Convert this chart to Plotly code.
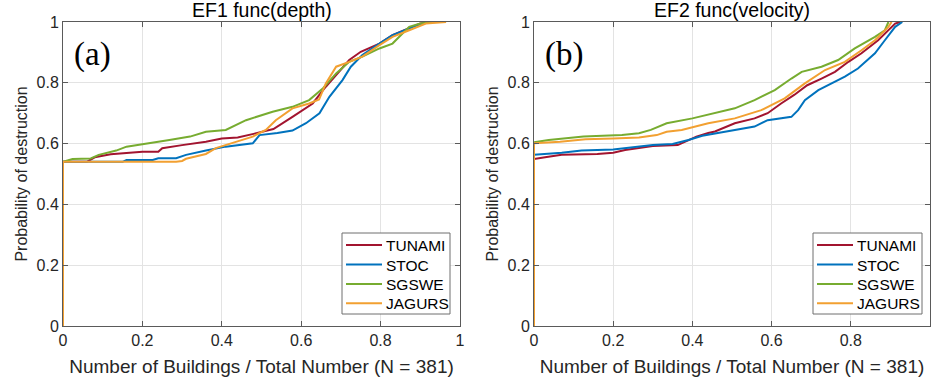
import plotly.graph_objects as go

# ---------------- data ----------------
series_names = ["TUNAMI", "STOC", "SGSWE", "JAGURS"]
series_colors = ["#A2142F", "#0072BD", "#77AC30", "#F2A031"]
panel_titles = ["EF1 func(depth)", "EF2 func(velocity)"]
panel_tags = ["(a)", "(b)"]
tick_vals = [0, 0.2, 0.4, 0.6, 0.8, 1]
tick_text = ["0", "0.2", "0.4", "0.6", "0.8", "1"]

# Panel (a): EF1 func(depth)
a_tunami_x = [0, 0, 0.06, 0.08, 0.12, 0.2, 0.24, 0.25, 0.3, 0.36, 0.4, 0.44, 0.48, 0.52, 0.53, 0.578, 0.629, 0.662, 0.688, 0.721, 0.75, 0.797, 0.83, 0.872, 0.90, 0.93]
a_tunami_y = [0, 0.54, 0.54, 0.555, 0.565, 0.573, 0.573, 0.585, 0.595, 0.606, 0.617, 0.62, 0.632, 0.645, 0.648, 0.688, 0.732, 0.787, 0.825, 0.875, 0.902, 0.929, 0.957, 0.979, 0.995, 1.0]
a_stoc_x = [0, 0, 0.15, 0.16, 0.226, 0.24, 0.285, 0.31, 0.36, 0.41, 0.478, 0.495, 0.54, 0.578, 0.612, 0.646, 0.671, 0.704, 0.725, 0.754, 0.797, 0.83, 0.881, 0.92]
a_stoc_y = [0, 0.54, 0.54, 0.546, 0.546, 0.552, 0.552, 0.563, 0.577, 0.59, 0.601, 0.628, 0.635, 0.643, 0.667, 0.70, 0.754, 0.809, 0.853, 0.891, 0.929, 0.957, 0.984, 1.0]
a_sgswe_x = [0, 0, 0.024, 0.07, 0.09, 0.134, 0.16, 0.209, 0.268, 0.32, 0.36, 0.41, 0.461, 0.528, 0.578, 0.62, 0.655, 0.688, 0.721, 0.754, 0.797, 0.83, 0.855, 0.872, 0.90, 0.93]
a_sgswe_y = [0, 0.54, 0.549, 0.551, 0.563, 0.577, 0.59, 0.601, 0.612, 0.623, 0.639, 0.645, 0.677, 0.705, 0.721, 0.743, 0.782, 0.831, 0.869, 0.886, 0.913, 0.929, 0.962, 0.984, 0.995, 1.0]
a_jagurs_x = [0, 0, 0.285, 0.30, 0.31, 0.36, 0.385, 0.44, 0.478, 0.494, 0.511, 0.536, 0.578, 0.62, 0.645, 0.662, 0.688, 0.721, 0.754, 0.797, 0.83, 0.872, 0.914, 0.965]
a_jagurs_y = [0, 0.54, 0.54, 0.543, 0.55, 0.566, 0.585, 0.606, 0.623, 0.634, 0.645, 0.677, 0.716, 0.732, 0.745, 0.798, 0.853, 0.869, 0.886, 0.924, 0.951, 0.973, 0.995, 1.0]

# Panel (b): EF2 func(velocity)
b_tunami_x = [0, 0, 0.028, 0.07, 0.16, 0.2, 0.23, 0.265, 0.3, 0.363, 0.39, 0.41, 0.44, 0.457, 0.507, 0.557, 0.59, 0.624, 0.657, 0.69, 0.726, 0.76, 0.794, 0.827, 0.869, 0.895, 0.912, 0.925]
b_tunami_y = [0, 0.549, 0.555, 0.563, 0.566, 0.57, 0.579, 0.585, 0.592, 0.595, 0.612, 0.623, 0.635, 0.64, 0.667, 0.683, 0.70, 0.732, 0.76, 0.792, 0.814, 0.836, 0.869, 0.897, 0.94, 0.973, 0.995, 1.0]
b_stoc_x = [0, 0, 0.07, 0.12, 0.2, 0.245, 0.3, 0.35, 0.39, 0.425, 0.475, 0.507, 0.557, 0.59, 0.65, 0.667, 0.684, 0.718, 0.752, 0.785, 0.818, 0.861, 0.886, 0.912, 0.93]
b_stoc_y = [0, 0.563, 0.57, 0.577, 0.581, 0.588, 0.595, 0.599, 0.612, 0.626, 0.637, 0.645, 0.656, 0.677, 0.688, 0.71, 0.743, 0.776, 0.798, 0.82, 0.847, 0.897, 0.94, 0.984, 1.0]
b_sgswe_x = [0, 0, 0.037, 0.075, 0.125, 0.222, 0.265, 0.295, 0.335, 0.4, 0.457, 0.507, 0.557, 0.608, 0.65, 0.676, 0.726, 0.768, 0.81, 0.861, 0.886, 0.895]
b_sgswe_y = [0, 0.604, 0.612, 0.617, 0.623, 0.628, 0.634, 0.645, 0.667, 0.683, 0.70, 0.716, 0.743, 0.776, 0.814, 0.836, 0.853, 0.875, 0.913, 0.951, 0.973, 1.0]
b_jagurs_x = [0, 0, 0.066, 0.13, 0.2, 0.265, 0.31, 0.335, 0.373, 0.44, 0.507, 0.574, 0.633, 0.684, 0.735, 0.785, 0.827, 0.861, 0.895, 0.903]
b_jagurs_y = [0, 0.601, 0.606, 0.614, 0.617, 0.62, 0.628, 0.639, 0.645, 0.667, 0.683, 0.71, 0.749, 0.798, 0.842, 0.869, 0.907, 0.94, 0.984, 1.0]

panel_a = [(a_tunami_x, a_tunami_y), (a_stoc_x, a_stoc_y), (a_sgswe_x, a_sgswe_y), (a_jagurs_x, a_jagurs_y)]
panel_b = [(b_tunami_x, b_tunami_y), (b_stoc_x, b_stoc_y), (b_sgswe_x, b_sgswe_y), (b_jagurs_x, b_jagurs_y)]

# ---------------- figure ----------------
W, H = 933, 385
fig = go.Figure()

for p, (panel, xa, ya) in enumerate([(panel_a, "x", "y"), (panel_b, "x2", "y2")]):
    for (xs, ys), name, col in zip(panel, series_names, series_colors):
        fig.add_trace(go.Scatter(x=xs, y=ys, mode="lines", name=name,
                                 line=dict(color=col, width=2),
                                 xaxis=xa, yaxis=ya, showlegend=False))

FONT = "Liberation Sans, Arial, sans-serif"
y_dom = [(H - 326) / H, (H - 22) / H]

axis_common = dict(range=[0, 1], tickvals=tick_vals, ticktext=tick_text,
                   showgrid=True, gridcolor="#e3e3e3", gridwidth=1,
                   showline=True, linecolor="#5a5a5a", linewidth=1, mirror="ticks",
                   ticks="inside", ticklen=5, tickcolor="#5a5a5a",
                   zeroline=False, automargin=False,
                   tickfont=dict(family=FONT, size=16, color="#262626"))

xtitle = dict(text="Number of Buildings / Total Number (N = 381)",
              font=dict(family=FONT, size=19, color="#262626"), standoff=11)
ytitle = dict(text="Probability of destruction",
              font=dict(family=FONT, size=16, color="#262626"), standoff=4)

fig.update_layout(
    width=W, height=H,
    margin=dict(l=0, r=0, t=0, b=0),
    paper_bgcolor="white", plot_bgcolor="white",
    font=dict(family=FONT, color="#262626"),
    xaxis=dict(domain=[63 / W, 460 / W], anchor="y", title=xtitle, **axis_common),
    yaxis=dict(domain=y_dom, anchor="x", title=ytitle, **axis_common),
    xaxis2=dict(domain=[534 / W, 930 / W], anchor="y2", title=xtitle, **axis_common),
    yaxis2=dict(domain=y_dom, anchor="x2", title=ytitle, **axis_common),
    showlegend=False,
)

# legend boxes (one per panel), drawn in pixel-based paper coordinates
legend_boxes = [(342, 450), (813, 922)]   # left/right edge (px)
leg_top, leg_bot = 233, 314
leg_rows = [245, 264.5, 284, 303.3]

def px_x(v):
    return v / W

def px_y(v):
    return 1 - v / H

for (lx0, lx1) in legend_boxes:
    fig.add_shape(type="rect", xref="paper", yref="paper",
                  x0=px_x(lx0), x1=px_x(lx1), y0=px_y(leg_bot), y1=px_y(leg_top),
                  line=dict(color="#6e6e6e", width=1), fillcolor="white", layer="above")
    for name, col, ry in zip(series_names, series_colors, leg_rows):
        fig.add_shape(type="line", xref="paper", yref="paper",
                      x0=px_x(lx0 + 4), x1=px_x(lx0 + 40), y0=px_y(ry), y1=px_y(ry),
                      line=dict(color=col, width=2), layer="above")
        fig.add_annotation(text=name, xref="paper", yref="paper",
                           x=px_x(lx0 + 42), y=px_y(ry + 0.5), xanchor="left", yanchor="middle",
                           showarrow=False,
                           font=dict(family=FONT, size=15.5, color="#000000"))

for i, (title, tag) in enumerate(zip(panel_titles, panel_tags)):
    xd = "x domain" if i == 0 else "x2 domain"
    fig.add_annotation(text=title, xref=xd, x=0.5, yref="paper", y=1 - 10 / H,
                       xanchor="center", yanchor="middle", showarrow=False,
                       font=dict(family=FONT, size=19.5, color="#000000"))
    fig.add_annotation(text=tag, xref=xd, x=0.022, yref="paper", y=1 - 54 / H,
                       xanchor="left", yanchor="middle", showarrow=False,
                       font=dict(family="Liberation Serif, Times New Roman, serif", size=33, color="#000000"))

fig.write_html("out.html", config={"displayModeBar": False},
               post_script="document.body.style.margin='0px';")
